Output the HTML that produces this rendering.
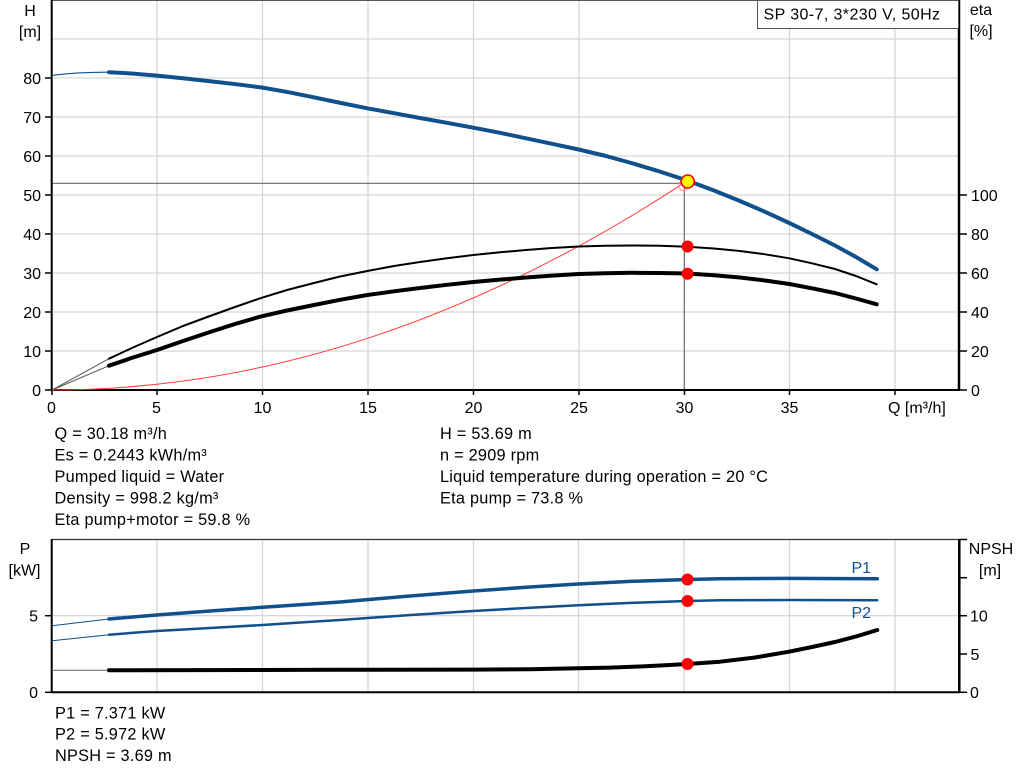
<!DOCTYPE html>
<html><head><meta charset="utf-8"><style>
html,body{margin:0;padding:0;background:#fff;}
svg{display:block;}
text{font-family:"Liberation Sans",Arial,sans-serif;fill:#000;}
.t{font-size:16px;}
.i{font-size:16.3px;letter-spacing:0.25px;}
</style></head><body>
<svg width="1024" height="781" viewBox="0 0 1024 781" xmlns="http://www.w3.org/2000/svg">
<!-- TOP CHART GRID -->
<g stroke="#d6d6d6" stroke-width="1.3" fill="none">
<line x1="157" y1="0" x2="157" y2="390"/><line x1="262.5" y1="0" x2="262.5" y2="390"/>
<line x1="368" y1="0" x2="368" y2="390"/><line x1="473.5" y1="0" x2="473.5" y2="390"/>
<line x1="579" y1="0" x2="579" y2="390"/><line x1="789.5" y1="0" x2="789.5" y2="390"/>
<line x1="895" y1="0" x2="895" y2="390"/>
<line x1="52" y1="351" x2="959" y2="351"/><line x1="52" y1="312" x2="959" y2="312"/>
<line x1="52" y1="273" x2="959" y2="273"/><line x1="52" y1="234" x2="959" y2="234"/>
<line x1="52" y1="195" x2="959" y2="195"/><line x1="52" y1="156" x2="959" y2="156"/>
<line x1="52" y1="117" x2="959" y2="117"/><line x1="52" y1="78" x2="959" y2="78"/>
<line x1="52" y1="39" x2="959" y2="39"/>
</g>
<!-- operating lines -->
<g stroke="#6a6a6a" stroke-width="1.2">
<line x1="52" y1="183.3" x2="684.3" y2="183.3"/><line x1="684.3" y1="183.3" x2="684.3" y2="390"/>
</g>
<!-- axes top -->
<line x1="52" y1="0.5" x2="959" y2="0.5" stroke="#555" stroke-width="1"/>
<line x1="51.7" y1="0" x2="51.7" y2="391" stroke="#000" stroke-width="2"/>
<line x1="959" y1="0" x2="959" y2="391" stroke="#000" stroke-width="2.5"/>
<line x1="51" y1="390" x2="960" y2="390" stroke="#000" stroke-width="2"/>
<g stroke="#000" stroke-width="1.5">
<line x1="45" y1="390" x2="52" y2="390"/><line x1="45" y1="351" x2="52" y2="351"/><line x1="45" y1="312" x2="52" y2="312"/>
<line x1="45" y1="273" x2="52" y2="273"/><line x1="45" y1="234" x2="52" y2="234"/><line x1="45" y1="195" x2="52" y2="195"/>
<line x1="45" y1="156" x2="52" y2="156"/><line x1="45" y1="117" x2="52" y2="117"/><line x1="45" y1="78" x2="52" y2="78"/>
<line x1="959" y1="390" x2="967" y2="390"/><line x1="959" y1="351" x2="967" y2="351"/><line x1="959" y1="312" x2="967" y2="312"/>
<line x1="959" y1="273" x2="967" y2="273"/><line x1="959" y1="234" x2="967" y2="234"/><line x1="959" y1="195" x2="967" y2="195"/>
<line x1="52" y1="390" x2="52" y2="395"/><line x1="157" y1="390" x2="157" y2="395"/><line x1="262.5" y1="390" x2="262.5" y2="395"/>
<line x1="368" y1="390" x2="368" y2="395"/><line x1="473.5" y1="390" x2="473.5" y2="395"/><line x1="579" y1="390" x2="579" y2="395"/>
<line x1="684.5" y1="390" x2="684.5" y2="395"/><line x1="789.5" y1="390" x2="789.5" y2="395"/><line x1="895" y1="390" x2="895" y2="395"/>
</g>
<!-- left tick labels -->
<g text-anchor="end">
<text x="41" y="396" class="t">0</text><text x="41" y="357" class="t">10</text><text x="41" y="318" class="t">20</text>
<text x="41" y="279" class="t">30</text><text x="41" y="240" class="t">40</text><text x="41" y="201" class="t">50</text>
<text x="41" y="162" class="t">60</text><text x="41" y="123" class="t">70</text><text x="41" y="84" class="t">80</text>
</g>
<text x="30" y="16" class="t" text-anchor="middle">H</text>
<text x="30" y="37" class="t" text-anchor="middle">[m]</text>
<text x="981" y="15" class="t" text-anchor="middle">eta</text>
<text x="981" y="36" class="t" text-anchor="middle">[%]</text>
<g>
<text x="971" y="396" class="t">0</text><text x="971" y="357" class="t">20</text><text x="971" y="318" class="t">40</text>
<text x="971" y="279" class="t">60</text><text x="971" y="240" class="t">80</text><text x="971" y="201" class="t">100</text>
</g>
<!-- x tick labels -->
<g text-anchor="middle">
<text x="51.5" y="413" class="t">0</text><text x="156.5" y="413" class="t">5</text><text x="262.5" y="413" class="t">10</text>
<text x="368" y="413" class="t">15</text><text x="473.5" y="413" class="t">20</text><text x="579" y="413" class="t">25</text>
<text x="684.5" y="413" class="t">30</text><text x="789.5" y="413" class="t">35</text>
</g>
<text x="888" y="413" class="t">Q [m³/h]</text>
<!-- title box -->
<rect x="757.5" y="0.5" width="201" height="28" fill="#fff" stroke="#555" stroke-width="1"/>
<text x="763.5" y="19.5" class="t" style="letter-spacing:0.4px">SP 30-7, 3*230 V, 50Hz</text>

<!-- red system curve -->
<path d="M51.7,390 Q369.6,390 687.6,180.6" fill="none" stroke="#ff3b3b" stroke-width="1"/>
<!-- thin extensions -->
<path d="M52,75.3 Q80,72 109,72.2" fill="none" stroke="#10508c" stroke-width="1.2"/>
<line x1="52" y1="390" x2="109" y2="358.7" stroke="#555" stroke-width="1"/>
<line x1="52" y1="390" x2="109" y2="365.7" stroke="#555" stroke-width="1"/>
<!-- eta upper -->
<polyline fill="none" stroke="#000" stroke-width="2" stroke-linejoin="round" stroke-linecap="round"
points="109,358.7 133,347.5 157,337 183,326 210,316 235,307 260,298.3 287,290 314,283 340,276.5 367.3,271 394,266 420,262 447,258.3 473.3,255 500,252.3 526,250 552,248 578.7,246.5 605,245.7 632,245.5 660,245.8 687.5,246.7 714,248.5 740,251 765,254.3 789.3,258.3 812,263.3 835,269 856,276 876.7,284.3"/>
<!-- eta lower -->
<polyline fill="none" stroke="#000" stroke-width="4" stroke-linejoin="round" stroke-linecap="round"
points="109,365.7 133,357.5 157,350 183,341 210,332 235,324 260,316.7 287,310.5 314,305 340,299.8 367.3,295 394,291.3 420,288 447,284.8 473.3,282 500,279.6 526,277.5 552,275.6 578.7,274 605,273.2 632,272.8 660,273 687.5,273.5 714,275.3 740,277.5 765,280.5 789.3,284 812,288.3 835,293 856,298.5 876.7,304.3"/>
<!-- H curve -->
<polyline fill="none" stroke="#10508c" stroke-width="4" stroke-linejoin="round" stroke-linecap="round"
points="109,72.2 133,73.6 156.7,75.6 183,78.3 210,81.2 236,84.2 262.7,87.6 289,92.3 315,97.6 341,103 367.3,108.3 394,113.2 420,118 447,122.8 473.3,127.7 500,132.8 526,138.3 552,143.8 578.7,149.5 606,156 633,163.5 660,171.6 687.6,180.6 714,190.5 740,201 765,211.8 789.3,223 812,234 835,245.5 856,257 876.7,269.3"/>
<!-- markers top -->
<circle cx="683.5" cy="185.5" r="5" fill="none" stroke="#ff9090" stroke-width="1"/>
<circle cx="687.7" cy="181.5" r="6.5" fill="#ffff00" stroke="#ff0000" stroke-width="1.6"/>
<circle cx="687.5" cy="246.5" r="6" fill="#ff0000"/>
<circle cx="687.5" cy="273.8" r="6" fill="#ff0000"/>

<!-- INFO TEXT -->
<g>
<text x="54.5" y="439" class="i">Q = 30.18 m³/h</text>
<text x="54.5" y="460.5" class="i">Es = 0.2443 kWh/m³</text>
<text x="54.5" y="482" class="i">Pumped liquid = Water</text>
<text x="54.5" y="503.5" class="i">Density = 998.2 kg/m³</text>
<text x="54.5" y="525" class="i">Eta pump+motor = 59.8 %</text>
<text x="440" y="439" class="i">H = 53.69 m</text>
<text x="440" y="460.5" class="i">n = 2909 rpm</text>
<text x="440" y="482" class="i">Liquid temperature during operation = 20 °C</text>
<text x="440" y="503.5" class="i">Eta pump = 73.8 %</text>
</g>

<!-- BOTTOM CHART -->
<g stroke="#d6d6d6" stroke-width="1.3">
<line x1="157" y1="540" x2="157" y2="692"/><line x1="262.5" y1="540" x2="262.5" y2="692"/>
<line x1="368" y1="540" x2="368" y2="692"/><line x1="473.5" y1="540" x2="473.5" y2="692"/>
<line x1="578.5" y1="540" x2="578.5" y2="692"/><line x1="684" y1="540" x2="684" y2="692"/>
<line x1="789.5" y1="540" x2="789.5" y2="692"/><line x1="895" y1="540" x2="895" y2="692"/>
<line x1="52" y1="615.7" x2="959" y2="615.7"/>
</g>
<line x1="52" y1="539.5" x2="959" y2="539.5" stroke="#333" stroke-width="1.2"/>
<line x1="51.7" y1="539" x2="51.7" y2="693" stroke="#000" stroke-width="2"/>
<line x1="959.3" y1="539" x2="959.3" y2="693" stroke="#000" stroke-width="2.5"/>
<line x1="51" y1="692.3" x2="960" y2="692.3" stroke="#000" stroke-width="2"/>
<g stroke="#000" stroke-width="1.5">
<line x1="45" y1="615.7" x2="52" y2="615.7"/><line x1="45" y1="692.3" x2="52" y2="692.3"/>
<line x1="959" y1="692.3" x2="967" y2="692.3"/><line x1="959" y1="654" x2="967" y2="654"/>
<line x1="959" y1="615.7" x2="967" y2="615.7"/><line x1="959" y1="577.7" x2="967" y2="577.7"/>
<line x1="959" y1="539.5" x2="967" y2="539.5"/>
</g>
<text x="25" y="554" class="t" text-anchor="middle">P</text>
<text x="24.5" y="575.7" class="t" text-anchor="middle">[kW]</text>
<text x="38" y="621.5" class="t" text-anchor="end">5</text>
<text x="38" y="698" class="t" text-anchor="end">0</text>
<text x="991" y="554" class="t" text-anchor="middle">NPSH</text>
<text x="990" y="575.7" class="t" text-anchor="middle">[m]</text>
<text x="970" y="621.5" class="t">10</text>
<text x="970.5" y="660" class="t">5</text>
<text x="970" y="698" class="t">0</text>
<text x="851.5" y="573" class="t" style="fill:#10508c">P1</text>
<text x="851.5" y="618" class="t" style="fill:#10508c">P2</text>

<!-- thin extensions bottom -->
<line x1="52" y1="625.7" x2="109" y2="619" stroke="#10508c" stroke-width="1"/>
<line x1="52" y1="640.7" x2="109" y2="634.7" stroke="#10508c" stroke-width="1"/>
<line x1="52" y1="670.3" x2="109" y2="670.3" stroke="#666" stroke-width="1"/>
<!-- P1 -->
<polyline fill="none" stroke="#10508c" stroke-width="3.5" stroke-linejoin="round" stroke-linecap="round"
points="109,619 156.7,615 210,611 262.7,607.3 300,604.7 340,602 407,596.3 473.3,591 526,587.3 578.3,584 633,581.3 687.5,579.5 720,578.8 789,578.4 877.3,578.7"/>
<!-- P2 -->
<polyline fill="none" stroke="#10508c" stroke-width="2.5" stroke-linejoin="round" stroke-linecap="round"
points="109,634.7 156.7,631 210,628 262.7,625 300,622.5 340,620 407,615.3 473.3,611 526,608 578.3,605.3 633,602.8 687.5,601 720,600.3 789,600 877.3,600.2"/>
<!-- NPSH -->
<polyline fill="none" stroke="#000" stroke-width="4" stroke-linejoin="round" stroke-linecap="round"
points="109,670.3 200,670.1 340,669.8 473.3,669.6 530,669.3 578.3,668.3 610,667.6 640,666.5 665,665.3 687.5,664 720,661.7 755,657.5 789,651.7 812,647 835,642 856,636.5 877.3,630"/>
<circle cx="687.5" cy="579.5" r="6" fill="#ff0000"/>
<circle cx="687.5" cy="601" r="6" fill="#ff0000"/>
<circle cx="687.5" cy="664" r="6" fill="#ff0000"/>

<g>
<text x="55" y="718.5" class="i">P1 = 7.371 kW</text>
<text x="55" y="739.5" class="i">P2 = 5.972 kW</text>
<text x="55" y="761" class="i">NPSH = 3.69 m</text>
</g>
</svg>
</body></html>
